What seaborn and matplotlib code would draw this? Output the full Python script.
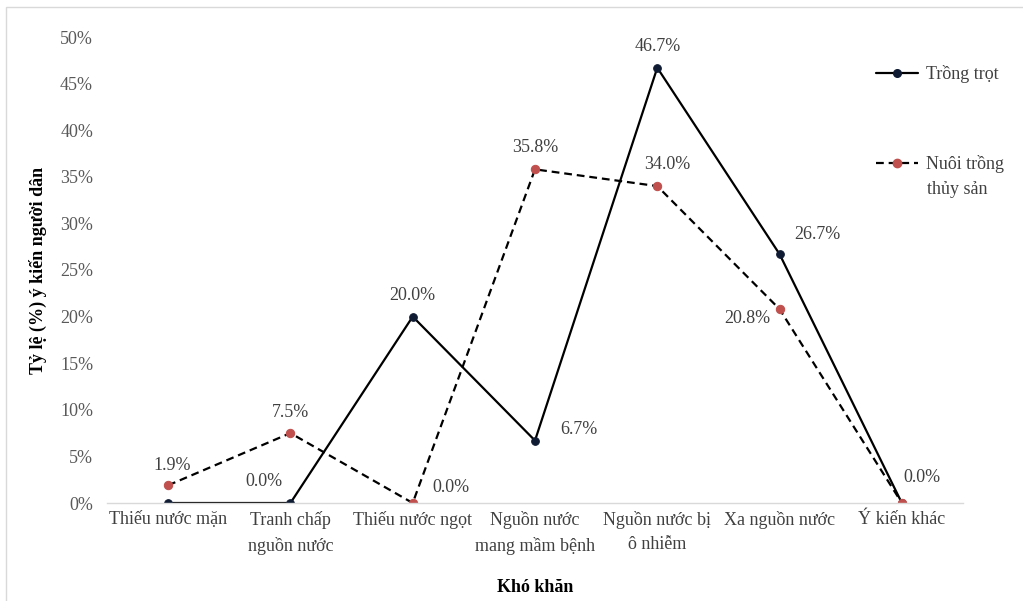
import matplotlib
matplotlib.use("Agg")
import matplotlib.pyplot as plt
from matplotlib.patches import Rectangle
from matplotlib.lines import Line2D
import seaborn as sns
import numpy as np
import pandas as pd

categories = ["Thiếu nước mặn", "Tranh chấp\nnguồn nước", "Thiếu nước ngọt",
              "Nguồn nước\nmang mầm bệnh", "Nguồn nước bị\nô nhiễm",
              "Xa nguồn nước", "Ý kiến khác"]
trong_trot = [0.0, 0.0, 20.0, 6.7, 46.7, 26.7, 0.0]
nuoi_trong = [1.9, 7.5, 0.0, 35.8, 34.0, 20.8, 0.0]
series_names = ["Trồng trọt", "Nuôi trồng\nthủy sản"]
y_ticks = [0, 5, 10, 15, 20, 25, 30, 35, 40, 45, 50]

sns.set_theme(style="white")
plt.rcParams['font.family'] = ['Liberation Serif', 'DejaVu Serif']

FS = 13
W, H = 1023, 601
fig = plt.figure(figsize=(W / 100, H / 100), dpi=100)
ax = fig.add_axes([107 / W, 1 - 503 / H, (963 - 107) / W, (503 - 37) / H])

idx = np.arange(len(categories))
df = pd.DataFrame({"idx": idx, "tt": np.array(trong_trot) / 100, "nt": np.array(nuoi_trong) / 100})

sns.lineplot(data=df, x="idx", y="tt", ax=ax, color="black", lw=1.6,
             marker="o", markersize=5.5, markerfacecolor="#0f1b33",
             markeredgecolor="#0f1b33", legend=False)
sns.lineplot(data=df, x="idx", y="nt", ax=ax, color="black", lw=1.6,
             linestyle=(0, (3.5, 2.2)), marker="o", markersize=6,
             markerfacecolor="#c0504d", markeredgecolor="#c0504d", legend=False)

ax.set_xlim(-0.5, 6.5)
ax.set_ylim(0, 0.5)
ax.set_yticks([v / 100 for v in y_ticks])
ax.set_yticklabels([f"{v}%" for v in y_ticks], color="#595959", fontsize=FS)
ax.set_xticks(idx)
ax.set_xticklabels(categories, color="#404040", fontsize=FS, linespacing=1.55)
ax.tick_params(axis="y", length=0, pad=10)
ax.tick_params(axis="x", length=0, pad=6)
for s in ["left", "top", "right"]:
    ax.spines[s].set_visible(False)
ax.spines["bottom"].set_color("#d9d9d9")
ax.spines["bottom"].set_linewidth(1.0)
ax.grid(False)

ax.set_xlabel("Khó khăn", fontsize=FS, fontweight="bold", color="black", labelpad=17)
ax.set_ylabel("Tỷ lệ (%) ý kiến người dân", fontsize=FS, fontweight="bold",
              color="black", labelpad=9)

# data labels (index, offset in pixels)
tt_labels = {1: (-26, 22), 2: (0, 21), 3: (44, 11), 4: (0, 21), 5: (38, 20), 6: (20, 25)}
nt_labels = {0: (4, 20), 1: (0, 21), 2: (38, 16), 3: (0, 22), 4: (10, 22), 5: (-32, -9)}
for i, (dx, dy) in tt_labels.items():
    ax.annotate(f"{trong_trot[i]:.1f}%", (i, trong_trot[i] / 100), xytext=(dx, dy),
                textcoords="offset pixels", ha="center", va="center",
                fontsize=FS, color="#404040")
for i, (dx, dy) in nt_labels.items():
    ax.annotate(f"{nuoi_trong[i]:.1f}%", (i, nuoi_trong[i] / 100), xytext=(dx, dy),
                textcoords="offset pixels", ha="center", va="center",
                fontsize=FS, color="#404040")

# legend
h1 = Line2D([], [], color="black", lw=1.6, marker="o", markersize=5.5,
            markerfacecolor="#0f1b33", markeredgecolor="#0f1b33")
h2 = Line2D([], [], color="black", lw=1.6, linestyle=(0, (3.5, 2.2)), marker="o",
            markersize=6, markerfacecolor="#c0504d", markeredgecolor="#c0504d")
leg = fig.legend([h1, h2], [series_names[0], series_names[1].split("\n")[0]],
                 loc="upper left", bbox_to_anchor=(876 / W, 1 - 65 / H),
                 frameon=False, fontsize=FS, handlelength=2.3, handletextpad=0.45,
                 labelspacing=4.0, borderpad=0, borderaxespad=0)
for t in leg.get_texts():
    t.set_color("#404040")
fig.text(927 / W, 1 - 190 / H, series_names[1].split("\n")[1], fontsize=FS,
         color="#404040", ha="left", va="center")

# outer frame
fig.patches.append(Rectangle((6 / W, -0.05), 1.1, 1 - 7 / H + 0.05,
                             transform=fig.transFigure, fill=False,
                             edgecolor="#d9d9d9", lw=1.0))

fig.savefig("out.png", dpi=100, facecolor="white")
